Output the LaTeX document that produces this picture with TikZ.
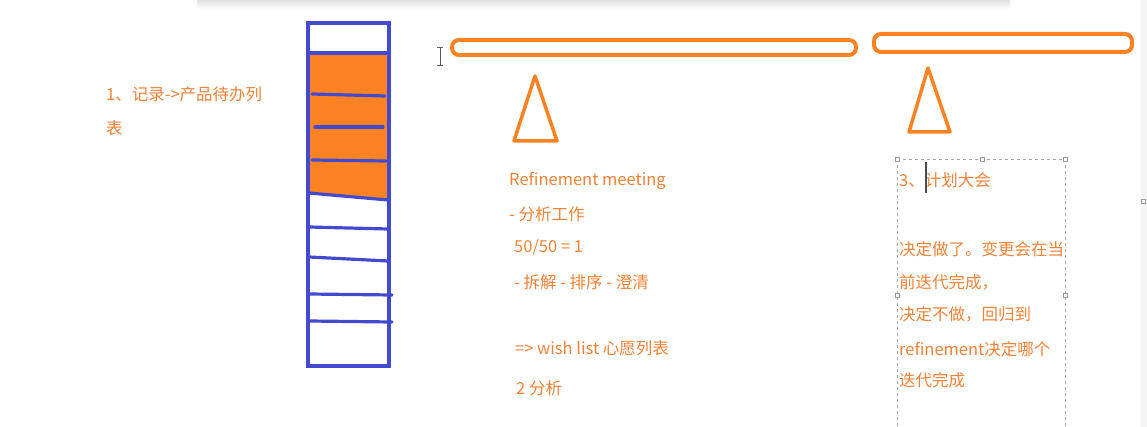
\documentclass[tikz,border=0pt]{standalone}
\usepackage{fontspec}
\usepackage{tikz}
\newfontfamily\cjk{Noto Sans CJK SC}
\definecolor{stackblue}{RGB}{68,74,206}
\definecolor{planorange}{RGB}{253,130,36}
\definecolor{noteorange}{RGB}{240,130,55}
\tikzset{
  note/.style={anchor=west,inner sep=0pt,text=noteorange,font=\cjk\fontsize{16.5}{20}\selectfont},
  handle/.style={draw=gray!80,fill=white,line width=0.5pt}
}

\begin{document}
\begin{tikzpicture}[x=1pt,y=-1pt]
    \useasboundingbox (0,0) rectangle (1147,427);

    % Schatten oben und Rand rechts
    \shade[top color=gray!25,bottom color=white] (197,0) rectangle (1010,9);
    \fill[gray!8] (1141,0) rectangle (1147,427);

    % Backlog-Stapel
    \fill[planorange] (309,53) -- (388,53) -- (388,200) -- (309,193) -- cycle;
    \draw[stackblue,line width=3.5pt] (309,53) -- (388,53);
    \draw[stackblue,line width=3.2pt,line cap=round] (312,94) -- (385,96);
    \draw[stackblue,line width=3.2pt,line cap=round] (315,127) -- (383,127);
    \draw[stackblue,line width=3.2pt,line cap=round] (312,160) -- (386,161);
    \draw[stackblue,line width=3.2pt] (309,193) -- (388,200);
    \draw[stackblue,line width=3.2pt] (309,227) -- (388,229);
    \draw[stackblue,line width=3.2pt] (309,257) -- (388,261);
    \draw[stackblue,line width=3.2pt,line cap=round] (309,294) -- (392,295);
    \draw[stackblue,line width=3.2pt,line cap=round] (309,321) -- (392,322);
    \draw[stackblue,line width=4pt] (308,23) rectangle (389,366);

    % Balken und Dreiecke
    \draw[planorange,line width=4pt,rounded corners=7pt] (452,40) rectangle (856,55);
    \draw[planorange,line width=4pt,rounded corners=7pt] (874,34) rectangle (1132,52);
    \draw[planorange,line width=3.5pt,line join=round] (535,76) -- (557,141) -- (514,141) -- cycle;
    \draw[planorange,line width=3.5pt,line join=round] (928,68) -- (950,132) -- (909,132) -- cycle;

    % Cursor
    \draw[gray!70!black,line width=0.8pt] (440,47) -- (440,65) (437,47) -- (443,47) (437,65) -- (443,65);

    % 1. Liste
    \node[note] (record) at (106,94) {1、记录->产品待办列};
    \node[note] (recordtail) at (106,128) {表};

    % 2. Refinement
    \node[note] (refine) at (509,181) {Refinement meeting};
    \node[note] (analyse) at (509,214) {- 分析工作};
    \node[note] (ratio) at (514,247) {50/50 = 1};
    \node[note] (steps) at (514,282) {- 拆解 - 排序 - 澄清};
    \node[note] (wish) at (515,348) {=> wish list 心愿列表};
    \node[note] (second) at (516,388) {2 分析};

    % 3. Planung, markiertes Textfeld
    \draw[gray!70,dashed,line width=0.7pt] (897,159) -- (1065,159) -- (1065,430) (897,159) -- (897,430);
    \foreach \hx/\hy in {897/159,982/159,1065/159,897/295,1065/295,1143/201}
        \draw[handle] (\hx-2,\hy-2) rectangle (\hx+2,\hy+2);
    \node[note] (plan) at (899,180) {3、计划大会};
    \draw[gray!60!black,line width=1.2pt] (926,162) -- (926,193);
    \node[note] (decide) at (899,249) {决定做了。变更会在当};
    \node[note] (current) at (899,282) {前迭代完成，};
    \node[note] (skip) at (899,314) {决定不做，回归到};
    \node[note] (back) at (899,349) {refinement决定哪个};
    \node[note] (later) at (899,380) {迭代完成};
\end{tikzpicture}
\end{document}
